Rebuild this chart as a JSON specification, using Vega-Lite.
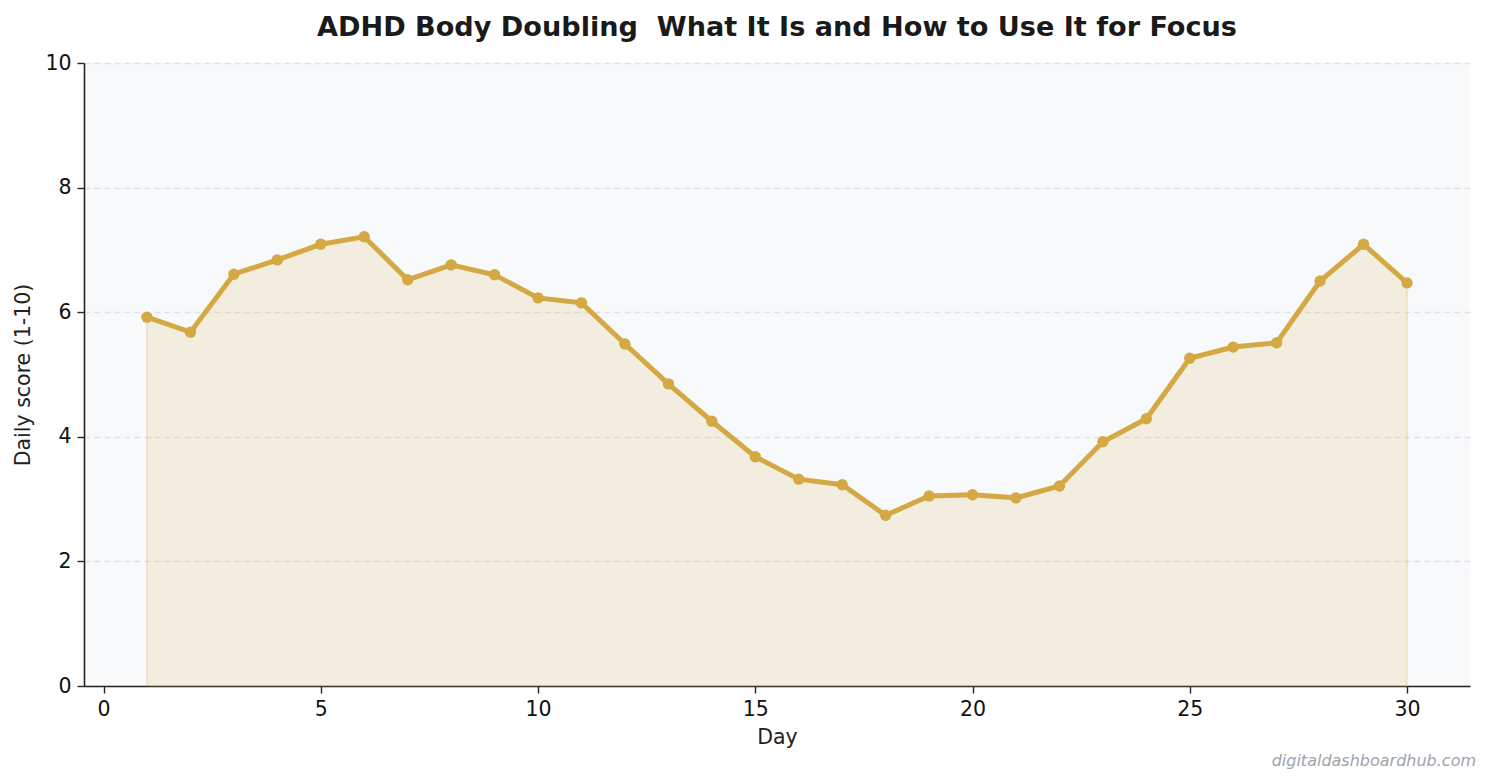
{
  "$schema": "https://vega.github.io/schema/vega-lite/v6.json",
  "width": 1386,
  "height": 623,
  "autosize": {"type": "none"},
  "padding": {"left": 84, "top": 63, "right": 22, "bottom": 97},
  "background": "#ffffff",
  "config": {
    "font": "DejaVu Sans",
    "view": {"fill": "#f8f9fb", "stroke": null},
    "axis": {"labelFont": "DejaVu Sans", "titleFont": "DejaVu Sans", "labelColor": "#111111", "titleColor": "#222222", "domainColor": "#222222", "tickColor": "#222222", "labelFontSize": 20.5, "titleFontSize": 20.5, "titleFontWeight": "normal", "domainWidth": 1.6, "tickWidth": 1.4, "tickSize": 7}
  },
  "title": {"text": "ADHD Body Doubling \u00a0What It Is and How to Use It for Focus", "fontSize": 27.1, "fontWeight": "bold", "color": "#1a1a1a", "font": "DejaVu Sans", "offset": 11, "anchor": "middle"},
  "data": {"values": [
    {"day": 1, "score": 5.92}, {"day": 2, "score": 5.68}, {"day": 3, "score": 6.61}, {"day": 4, "score": 6.84},
    {"day": 5, "score": 7.09}, {"day": 6, "score": 7.21}, {"day": 7, "score": 6.52}, {"day": 8, "score": 6.76},
    {"day": 9, "score": 6.6}, {"day": 10, "score": 6.23}, {"day": 11, "score": 6.15}, {"day": 12, "score": 5.49},
    {"day": 13, "score": 4.85}, {"day": 14, "score": 4.25}, {"day": 15, "score": 3.68}, {"day": 16, "score": 3.32},
    {"day": 17, "score": 3.23}, {"day": 18, "score": 2.74}, {"day": 19, "score": 3.05}, {"day": 20, "score": 3.07},
    {"day": 21, "score": 3.02}, {"day": 22, "score": 3.21}, {"day": 23, "score": 3.92}, {"day": 24, "score": 4.29},
    {"day": 25, "score": 5.26}, {"day": 26, "score": 5.44}, {"day": 27, "score": 5.51}, {"day": 28, "score": 6.5},
    {"day": 29, "score": 7.09}, {"day": 30, "score": 6.47}
  ]},
  "encoding": {
    "x": {"field": "day", "type": "quantitative", "title": "Day",
          "scale": {"domain": [-0.45, 31.45], "nice": false, "zero": false},
          "axis": {"values": [0, 5, 10, 15, 20, 25, 30], "grid": false, "titlePadding": 8, "labelPadding": 6, "labelFlush": false}},
    "y": {"field": "score", "type": "quantitative", "title": "Daily score (1-10)",
          "scale": {"domain": [0, 10], "nice": false},
          "axis": {"values": [0, 2, 4, 6, 8, 10], "grid": true, "gridDash": [6, 4], "gridColor": "#e0e2e5", "gridWidth": 1.3, "titlePadding": 11, "labelPadding": 6, "labelFlush": false}}
  },
  "layer": [
    {"mark": {"type": "area", "color": "#d4a843", "fillOpacity": 0.15, "stroke": "#d4a843", "strokeOpacity": 0.18, "strokeWidth": 2}},
    {"mark": {"type": "line", "color": "#d4a843", "strokeWidth": 5}},
    {"mark": {"type": "point", "filled": true, "color": "#d4a843", "opacity": 1, "size": 130}},
    {"data": {"values": [{"x": 31.45, "y": -1.2, "label": "digitaldashboardhub.com"}]},
     "mark": {"type": "text", "align": "right", "baseline": "middle", "fontStyle": "italic", "fontSize": 16, "color": "#9ea3ad", "clip": false, "dx": 6},
     "encoding": {"x": {"field": "x", "type": "quantitative"}, "y": {"field": "y", "type": "quantitative"}, "text": {"field": "label"}}}
  ]
}
